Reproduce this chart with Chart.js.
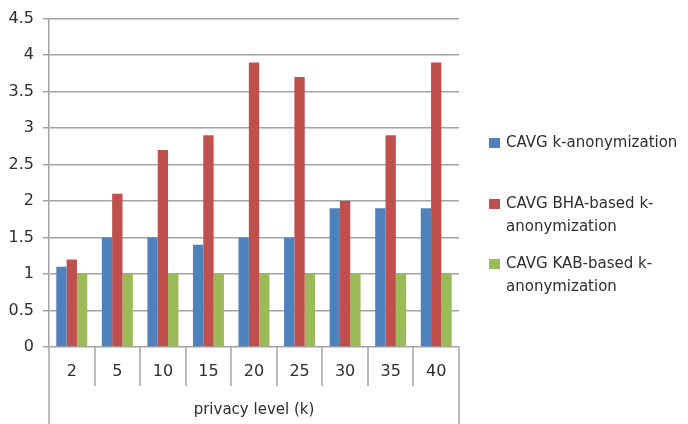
<!DOCTYPE html>
<html>
<head>
<meta charset="utf-8">
<script src="https://cdn.jsdelivr.net/npm/chart.js@4/dist/chart.umd.min.js"></script>
<style>
  html, body { margin: 0; padding: 0; background: #ffffff; }
  #wrap { width: 688px; height: 424px; }
</style>
</head>
<body>
<div id="wrap"><canvas id="c" width="688" height="424"></canvas></div>
<script>
// Privacy level categories (k)
const categories = ['2', '5', '10', '15', '20', '25', '30', '35', '40'];

// Average cost values per method
const cavgPlain = [1.1, 1.5, 1.5, 1.4, 1.5, 1.5, 1.9, 1.9, 1.9];
const cavgBha   = [1.2, 2.1, 2.7, 2.9, 3.9, 3.7, 2.0, 2.9, 3.9];
const cavgKab   = [1.0, 1.0, 1.0, 1.0, 1.0, 1.0, 1.0, 1.0, 1.0];

// Legend entries, one array of lines per series
const seriesLabels = [
  ['CAVG k-anonymization'],
  ['CAVG BHA-based k-', 'anonymization'],
  ['CAVG KAB-based k-', 'anonymization']
];
const axisTitle = 'privacy level (k)';

const FONT = '"DejaVu Sans", Verdana, sans-serif';
const GRID = '#a3a3a3';
const TEXT = '#2e2e2e';

// Draws the boxed category axis underneath the plot and the legend on the right
const frameAndLegend = {
  id: 'frameAndLegend',
  afterDraw(chart) {
    const ctx = chart.ctx;
    const area = chart.chartArea;
    const x = chart.scales.x;
    const half = (x.getPixelForValue(1) - x.getPixelForValue(0)) / 2;
    const sepBottom = area.bottom + 39;
    const H = chart.height;

    ctx.save();
    ctx.strokeStyle = GRID;
    ctx.lineWidth = 1.5;
    // separators between categories
    for (let i = 0; i <= categories.length; i++) {
      const px = Math.round(x.getPixelForValue(0) - half + i * 2 * half);
      ctx.beginPath();
      ctx.moveTo(px, area.bottom);
      ctx.lineTo(px, (i === 0 || i === categories.length) ? H : sepBottom);
      ctx.stroke();
    }
    // category labels
    ctx.fillStyle = TEXT;
    ctx.font = '16px ' + FONT;
    ctx.textAlign = 'center';
    ctx.textBaseline = 'middle';
    categories.forEach((c, i) => {
      ctx.fillText(c, x.getPixelForValue(i), area.bottom + 25);
    });
    // axis title
    ctx.font = '15px ' + FONT;
    ctx.fillText(axisTitle, (area.left + area.right) / 2, 410);

    // legend
    ctx.textAlign = 'left';
    ctx.font = '15px ' + FONT;
    const tops = [143, 204, 264];
    chart.data.datasets.forEach((ds, i) => {
      ctx.fillStyle = ds.backgroundColor;
      ctx.fillRect(489, tops[i] - 5, 11, 10);
      ctx.fillStyle = TEXT;
      seriesLabels[i].forEach((line, j) => {
        ctx.fillText(line, 506, tops[i] + j * 23);
      });
    });
    ctx.restore();
  }
};

new Chart(document.getElementById('c'), {
  type: 'bar',
  data: {
    labels: categories,
    datasets: [
      { label: seriesLabels[0].join(' '), data: cavgPlain, backgroundColor: '#4f81bd' },
      { label: seriesLabels[1].join(' '), data: cavgBha,   backgroundColor: '#c0504d' },
      { label: seriesLabels[2].join(' '), data: cavgKab,   backgroundColor: '#9bbb59' }
    ]
  },
  options: {
    responsive: false,
    animation: false,
    devicePixelRatio: 1,
    layout: { padding: { left: 0, right: 229, top: 16, bottom: 77 } },
    datasets: { bar: { categoryPercentage: 0.68, barPercentage: 1.0 } },
    plugins: { legend: { display: false }, tooltip: { enabled: false } },
    scales: {
      x: { display: false },
      y: {
        min: 0,
        max: 4.5,
        ticks: {
          stepSize: 0.5,
          color: TEXT,
          font: { family: FONT, size: 16 },
          padding: 9,
          callback: (v) => String(v)
        },
        grid: { color: GRID, lineWidth: 1.5, tickLength: 6 },
        border: { color: GRID, width: 1.5 },
        afterFit(scale) { scale.width = 49; }
      }
    }
  },
  plugins: [frameAndLegend]
});
</script>
</body>
</html>
